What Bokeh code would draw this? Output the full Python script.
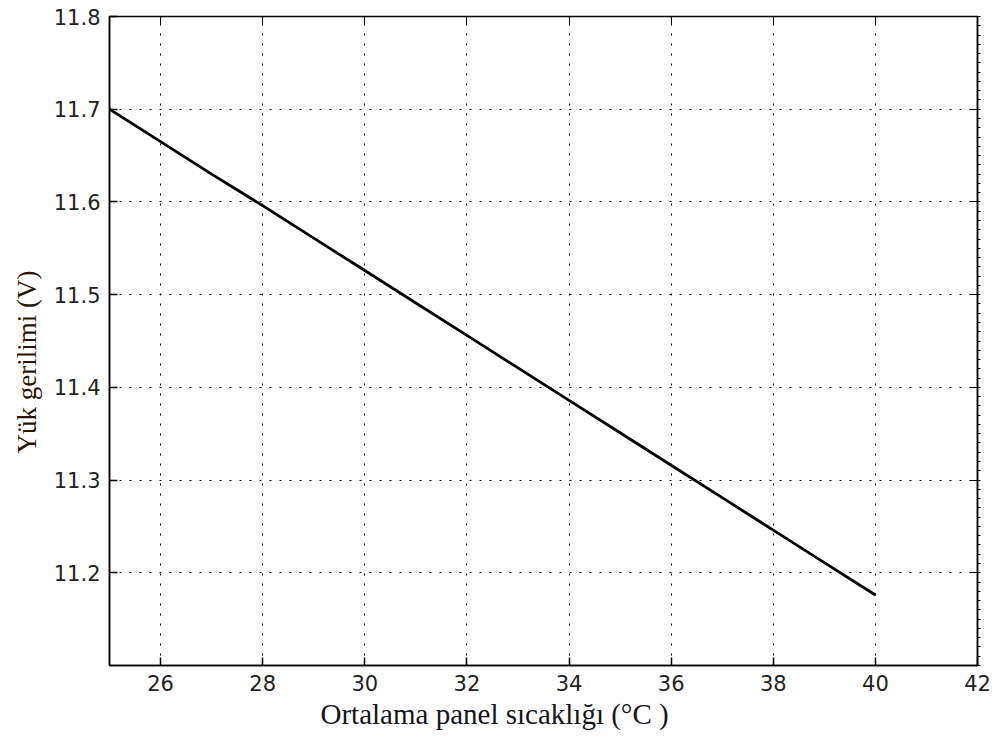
from bokeh.plotting import figure
from bokeh.models import LinearAxis, Range1d, FixedTicker, Title
from bokeh.embed import file_html
from bokeh.resources import INLINE

temps = [25, 26, 27, 28, 29, 30, 31, 32, 33, 34, 35, 36, 37, 38, 39, 40]
voltage = [11.700, 11.665, 11.630, 11.596, 11.561, 11.526, 11.491, 11.456,
           11.421, 11.386, 11.351, 11.316, 11.281, 11.246, 11.211, 11.176]
x_ticks = [26, 28, 30, 32, 34, 36, 38, 40, 42]
y_ticks = [11.2, 11.3, 11.4, 11.5, 11.6, 11.7, 11.8]
x_title = "Ortalama panel sıcaklığı (°C )"
y_title = "Yük gerilimi (V)"

p = figure(width=995, height=740, output_backend="svg", toolbar_location=None,
           x_range=Range1d(25, 42), y_range=Range1d(11.1, 11.8),
           min_border_left=109, min_border_right=18, min_border_top=16,
           min_border_bottom=75)
p.background_fill_color = "white"
p.border_fill_color = "white"
p.outline_line_color = "black"
p.outline_line_width = 1.5

p.line(temps, voltage, line_color="black", line_width=2.8)

for ax, ticks in ((p.xaxis[0], x_ticks), (p.yaxis[0], y_ticks)):
    ax.ticker = FixedTicker(ticks=ticks)
    ax.major_tick_in = 8
    ax.major_tick_out = 0
    ax.minor_tick_in = 0
    ax.minor_tick_out = 0
    ax.axis_line_color = "black"
    ax.axis_line_width = 1.5
    ax.major_tick_line_color = "black"
    ax.major_tick_line_width = 1.5
    ax.major_label_text_font = "DejaVu Sans"
    ax.major_label_text_font_size = "21px"
    ax.major_label_text_color = "#222222"
    ax.major_label_standoff = 9

xt = Title(text=x_title, align="left", offset=211, standoff=5,
           text_font="Liberation Serif", text_font_size="29px",
           text_font_style="normal", text_color="#14141e")
p.add_layout(xt, "below")
yt = Title(text=y_title, align="left", offset=212, standoff=18,
           text_font="Liberation Serif", text_font_size="27px",
           text_font_style="normal", text_color="#2a1608")
p.add_layout(yt, "left")

top = LinearAxis(ticker=FixedTicker(ticks=x_ticks), major_tick_in=8,
                 major_tick_out=0, minor_tick_in=0, minor_tick_out=0,
                 major_label_overrides={t: "" for t in x_ticks},
                 axis_line_color="black", major_label_standoff=0)
p.add_layout(top, "above")

minor_y = [round(11.1 + 0.01 * i, 2) for i in range(71)]
right = LinearAxis(ticker=FixedTicker(ticks=y_ticks, minor_ticks=minor_y),
                   major_tick_in=8, major_tick_out=0, minor_tick_in=0,
                   minor_tick_out=3,
                   major_label_overrides={t: "" for t in y_ticks},
                   axis_line_color="black", axis_line_width=1.5,
                   major_label_standoff=0)
p.add_layout(right, "right")

p.grid.grid_line_color = "black"
p.grid.grid_line_dash = "2 8"
p.grid.grid_line_width = 1
p.xgrid.ticker = FixedTicker(ticks=x_ticks)
p.ygrid.ticker = FixedTicker(ticks=y_ticks)

open("out.html", "w").write(file_html(p, INLINE))
